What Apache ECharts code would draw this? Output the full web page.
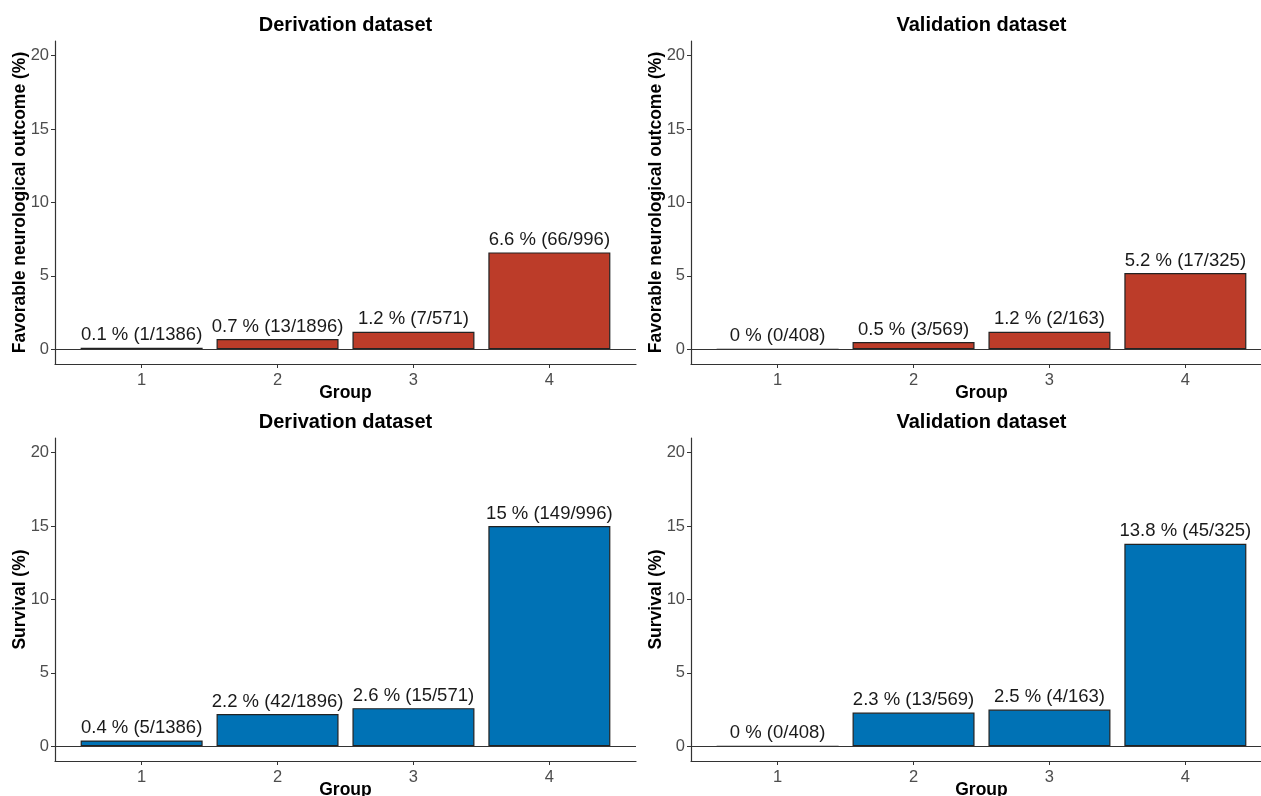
<!DOCTYPE html>
<html>
<head>
<meta charset="utf-8">
<script src="https://cdn.jsdelivr.net/npm/echarts@6/dist/echarts.min.js"></script>
<style>html,body{margin:0;padding:0;background:#fff}#c{width:1261px;height:796px}</style>
</head>
<body>
<div id="c"></div>
<script>
// ---- data ----
const groups = [1, 2, 3, 4];
const yTicks = [0, 5, 10, 15, 20];
const panelTitles = ['Derivation dataset', 'Validation dataset', 'Derivation dataset', 'Validation dataset'];
const yNames = ['Favorable neurological outcome (%)', 'Favorable neurological outcome (%)', 'Survival (%)', 'Survival (%)'];

const derivFavPct = [0.1, 0.7, 1.2, 6.6];
const derivFavN = [1, 13, 7, 66];
const derivDen = [1386, 1896, 571, 996];

const validFavPct = [0, 0.5, 1.2, 5.2];
const validFavN = [0, 3, 2, 17];
const validDen = [408, 569, 163, 325];

const derivSurvPct = [0.4, 2.2, 2.6, 15];
const derivSurvN = [5, 42, 15, 149];

const validSurvPct = [0, 2.3, 2.5, 13.8];
const validSurvN = [0, 13, 4, 45];

const RED = '#BC3C29', BLUE = '#0072B5';
const FONT = 'Liberation Sans, Arial, sans-serif';

const panels = [
  {pct: derivFavPct, n: derivFavN, d: derivDen, color: RED},
  {pct: validFavPct, n: validFavN, d: validDen, color: RED},
  {pct: derivSurvPct, n: derivSurvN, d: derivDen, color: BLUE},
  {pct: validSurvPct, n: validSurvN, d: validDen, color: BLUE}
];

// layout
const grids = [
  {left: 55, top: 41, width: 581, height: 323, outerBoundsMode: 'none', containLabel: false},
  {left: 691, top: 41, width: 581, height: 323, outerBoundsMode: 'none', containLabel: false},
  {left: 55, top: 438, width: 581, height: 323, outerBoundsMode: 'none', containLabel: false},
  {left: 691, top: 438, width: 581, height: 323, outerBoundsMode: 'none', containLabel: false}
];

const option = {
  animation: false,
  backgroundColor: '#fff',
  textStyle: {fontFamily: FONT},
  title: grids.map((g, i) => ({
    text: panelTitles[i],
    left: g.left + g.width / 2 - 5,
    top: g.top - 31,
    textAlign: 'center',
    textStyle: {fontFamily: FONT, fontWeight: 'bold', fontSize: 20, color: '#000'}
  })),
  grid: grids,
  xAxis: grids.map((g, i) => ({
    type: 'value',
    gridIndex: i,
    min: 0.3625,
    max: 4.6375,
    name: 'Group',
    nameLocation: 'middle',
    nameGap: 20,
    nameMoveOverlap: false,
    nameTextStyle: {fontFamily: FONT, fontWeight: 'bold', fontSize: 17.5, color: '#000'},
    axisLine: {show: true, onZero: false, lineStyle: {color: '#333', width: 1.2}},
    axisTick: {show: true, customValues: groups, length: 4, lineStyle: {color: '#333'}},
    axisLabel: {customValues: groups, margin: 8, fontSize: 16.5, color: '#4d4d4d', fontFamily: FONT},
    splitLine: {show: false}
  })),
  yAxis: grids.map((g, i) => ({
    type: 'value',
    gridIndex: i,
    min: -1,
    max: 21,
    name: yNames[i],
    nameLocation: 'middle',
    nameGap: 26,
    nameMoveOverlap: false,
    nameRotate: 90,
    nameTextStyle: {fontFamily: FONT, fontWeight: 'bold', fontSize: 17.5, color: '#000'},
    axisLine: {show: true, lineStyle: {color: '#333', width: 1.2}},
    axisTick: {show: true, customValues: yTicks, length: 4, lineStyle: {color: '#333'}},
    axisLabel: {customValues: yTicks, margin: 6, fontSize: 16.5, color: '#4d4d4d', fontFamily: FONT},
    splitLine: {show: false}
  })),
  series: panels.map((p, i) => ({
    type: 'bar',
    xAxisIndex: i,
    yAxisIndex: i,
    barWidth: 122,
    data: groups.map((gx, k) => [gx, p.pct[k]]),
    itemStyle: {color: p.color, borderColor: '#222', borderWidth: 1.2},
    label: {
      show: true,
      position: 'top',
      distance: 3,
      fontSize: 18.5,
      color: '#1a1a1a',
      fontFamily: FONT,
      formatter: (prm) => p.pct[prm.dataIndex] + ' % (' + p.n[prm.dataIndex] + '/' + p.d[prm.dataIndex] + ')'
    },
    markLine: {
      silent: true,
      symbol: ['none', 'none'],
      label: {show: false},
      lineStyle: {color: '#333', width: 1.2, type: 'solid'},
      data: [{yAxis: 0}]
    }
  }))
};

const chart = echarts.init(document.getElementById('c'), null, {renderer: 'canvas'});
chart.setOption(option);
</script>
</body>
</html>
